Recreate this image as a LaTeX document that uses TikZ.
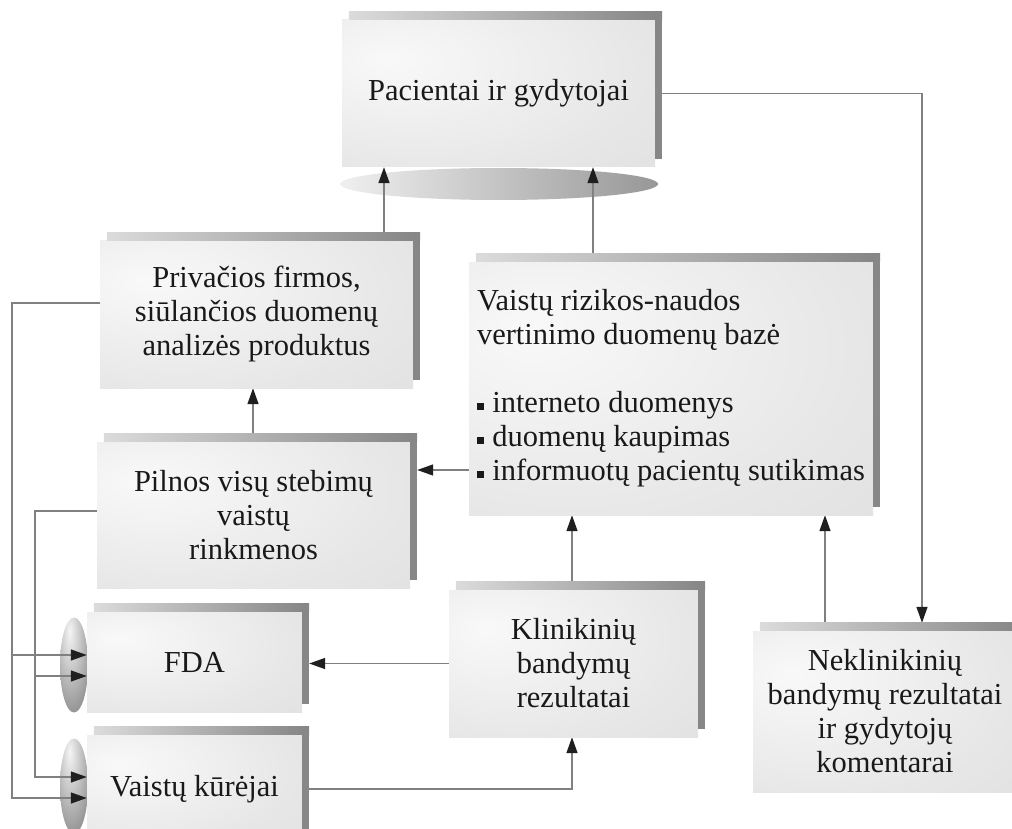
\documentclass[tikz,border=0pt]{standalone}
\usepackage{fontspec}
\setmainfont{Liberation Serif}
\usetikzlibrary{arrows.meta}
\pgfdeclarelayer{bg}
\pgfdeclarelayer{mid}
\pgfsetlayers{bg,mid,main}
\definecolor{boxhi}{gray}{0.975}
\definecolor{boxmid}{gray}{0.905}
\definecolor{boxlo}{gray}{0.86}
\definecolor{stripL}{gray}{0.86}
\definecolor{stripR}{gray}{0.52}
\definecolor{stripD}{gray}{0.53}
\definecolor{linec}{gray}{0.5}
\definecolor{tipc}{gray}{0.12}
\definecolor{txtc}{gray}{0.1}
\definecolor{elA}{gray}{0.72}
\definecolor{elB}{gray}{0.94}
\definecolor{elC}{gray}{0.42}
\definecolor{elD}{gray}{0.96}
\definecolor{elE}{gray}{0.6}
\definecolor{elF}{gray}{0.45}
\pgfdeclareradialshading{boxshade}{\pgfpoint{-18bp}{12bp}}{color(0bp)=(boxhi); color(35bp)=(boxmid); color(65bp)=(boxlo); color(100bp)=(boxlo)}
\pgfdeclarehorizontalshading{ellh}{100bp}{color(0bp)=(elA); color(25bp)=(elB); color(100bp)=(elC)}
\pgfdeclareradialshading{ellv}{\pgfpoint{-8bp}{18bp}}{color(0bp)=(elD); color(35bp)=(elE); color(60bp)=(elF); color(100bp)=(elF)}
\tikzset{
  mbox/.style={shade, shading=boxshade, inner sep=0pt, align=center, text=txtc,
    font=\fontsize{30.5}{34}\selectfont},
  conn/.style={draw=linec, line width=1.4pt},
  arr/.style={conn, -{Triangle[length=16pt,width=11pt,color=tipc]}},
  topell/.style={shade, shading=ellh},
  sideell/.style={shade, shading=ellv},
}
\newcommand\boxdeco[1]{%
  \shade[left color=stripL, right color=stripR] ([xshift=7pt]#1.north west) rectangle ([xshift=7pt,yshift=8pt]#1.north east);
  \fill[stripD] ([yshift=8pt]#1.north east) rectangle ([xshift=7pt,yshift=8pt]#1.south east);
  \coordinate (#1t) at ([yshift=8pt]#1.north);
  \coordinate (#1r) at ([xshift=7pt]#1.east);
}
\newcommand\sq{\rule[0.1em]{0.22em}{0.22em}\hspace{0.28em}}
\begin{document}
\begin{tikzpicture}[x=1pt, y=-1pt]
\useasboundingbox (0,0) rectangle (1012,829);
\clip (0,0) rectangle (1012,829);

% ellipses (background)
\begin{pgfonlayer}{bg}
  \path[topell] (499,184) ellipse [x radius=159pt, y radius=16pt];
  \path[sideell] (74,665) ellipse [x radius=14pt, y radius=47.5pt];
  \path[sideell] (74,786) ellipse [x radius=14pt, y radius=47.5pt];
\end{pgfonlayer}

% boxes
\node[mbox, minimum width=313pt, minimum height=147pt] (pac) at (498.5,93.5) {Pacientai ir gydytojai};
\boxdeco{pac}
\node[mbox, minimum width=313pt, minimum height=147pt] (priv) at (256.5,314.5) {Privačios firmos,\\ siūlančios duomenų\\ analizės produktus};
\boxdeco{priv}
\node[mbox, minimum width=404pt, minimum height=253pt, align=left] (vrb) at (671,388.5)
  {Vaistų rizikos-naudos\\ vertinimo duomenų bazė\\[34pt] \sq interneto duomenys\\ \sq duomenų kaupimas\\ \sq informuotų pacientų sutikimas};
\boxdeco{vrb}
\node[mbox, minimum width=313pt, minimum height=146pt] (pil) at (253.5,515) {Pilnos visų stebimų\\ vaistų\\ rinkmenos};
\boxdeco{pil}
\node[mbox, minimum width=215pt, minimum height=100pt] (fda) at (194.5,662) {FDA};
\boxdeco{fda}
\node[mbox, minimum width=215pt, minimum height=108pt] (vk) at (194.5,789) {Vaistų kūrėjai};
\boxdeco{vk}
\node[mbox, minimum width=249pt, minimum height=147pt] (kli) at (573.5,663.5) {Klinikinių\\ bandymų\\ rezultatai};
\boxdeco{kli}
\node[mbox, minimum width=264pt, minimum height=161pt] (nek) at (885,711.5) {Neklinikinių\\ bandymų rezultatai\\ ir gydytojų\\ komentarai};
\boxdeco{nek}

% helper coordinates
\coordinate (xA) at (12,0);
\coordinate (xB) at (35,0);
\coordinate (xR) at (922,0);
\coordinate (xP1) at (384,0);
\coordinate (xP2) at (593,0);
\coordinate (xK) at (572,0);
\coordinate (xN) at (825,0);
\coordinate (xL) at (253,0);
\coordinate (vA) at ([yshift=-81.5pt]vrb.west);
\coordinate (pA) at ([yshift=11.5pt]priv.west);
\coordinate (vkA) at ([yshift=-9pt]vk.west);
\coordinate (fdaA) at ([yshift=7pt]fda.west);
\coordinate (pB) at ([yshift=4pt]pil.west);
\coordinate (vkB) at ([yshift=12pt]vk.west);
\coordinate (fdaB) at ([yshift=-14pt]fda.west);

% connectors
\begin{pgfonlayer}{mid}
  \draw[arr] (pac.east) -| (nekt -| xR);
  \draw[arr] (privt -| xP1) -- (pac.south -| xP1);
  \draw[arr] (vrbt -| xP2) -- (pac.south -| xP2);
  \draw[arr] (pilt -| xL) -- (priv.south -| xL);
  \draw[arr] (vA) -- (vA -| pilr);
  \draw[arr] (klit -| xK) -- (vrb.south -| xK);
  \draw[arr] (nekt -| xN) -- (vrb.south -| xN);
  \draw[arr] (kli.west) -- (kli.west -| fdar);
  \draw[arr] (vk.east) -| (kli.south -| xK);
  \draw[arr] (pA) -| (vkA -| xA) -- (vkA);
  \draw[arr] (fdaA -| xA) -- (fdaA);
  \draw[arr] (pB) -| (vkB -| xB) -- (vkB);
  \draw[arr] (fdaB -| xB) -- (fdaB);
\end{pgfonlayer}
\end{tikzpicture}
\end{document}
